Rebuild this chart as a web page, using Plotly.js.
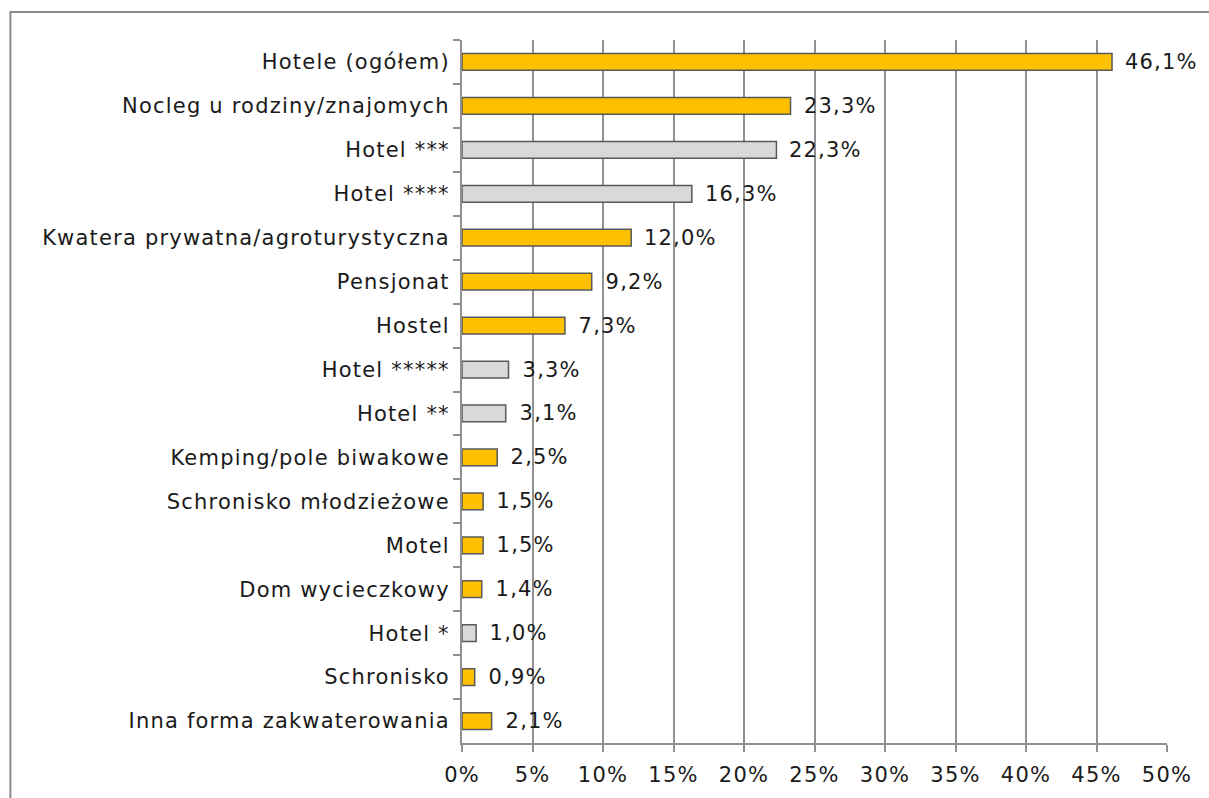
<!DOCTYPE html>
<html>
<head>
<meta charset="utf-8">
<script src="https://cdn.plot.ly/plotly-3.0.1.min.js"></script>
<style>html,body{margin:0;padding:0;background:#fff;}#chart{width:1209px;height:798px;}#chart text{letter-spacing:1.2px;}</style>
</head>
<body>
<div id="chart"></div>
<script>
const categories = ["Hotele (ogółem)","Nocleg u rodziny/znajomych","Hotel ***","Hotel ****","Kwatera prywatna/agroturystyczna","Pensjonat","Hostel","Hotel *****","Hotel **","Kemping/pole biwakowe","Schronisko młodzieżowe","Motel","Dom wycieczkowy","Hotel *","Schronisko","Inna forma zakwaterowania"];
const values = [46.1,23.3,22.3,16.3,12.0,9.2,7.3,3.3,3.1,2.5,1.5,1.5,1.4,1.0,0.9,2.1];
const isHotelClass = [false,false,true,true,false,false,false,true,true,false,false,false,false,true,false,false];
const xTickVals = [0,5,10,15,20,25,30,35,40,45,50];
const xTickText = ["0%","5%","10%","15%","20%","25%","30%","35%","40%","45%","50%"];

const colors = isHotelClass.map(h => h ? "#D9D9D9" : "#FFC000");

const trace = {
  type: "bar",
  orientation: "h",
  y: categories,
  x: values,
  marker: {color: colors, line: {color: "#595959", width: 1.5}},
  width: 0.38,
  hoverinfo: "skip"
};

const labelAnnotations = values.map((v, i) => ({
  x: v, y: categories[i], xref: "x", yref: "y",
  text: v.toFixed(1).replace(".", ",") + "%",
  showarrow: false, xanchor: "left", yanchor: "middle", xshift: 14,
  font: {size: 21, color: "#1a1a1a"}
}));

const layout = {
  width: 1209, height: 798,
  margin: {l: 462, r: 42, t: 40, b: 55},
  paper_bgcolor: "#fff", plot_bgcolor: "#fff",
  font: {family: "DejaVu Sans, sans-serif", size: 21, color: "#1a1a1a"},
  showlegend: false,
  xaxis: {
    range: [0, 50], tickvals: xTickVals, ticktext: xTickText,
    showgrid: true, gridcolor: "#909090", gridwidth: 2,
    showline: true, linecolor: "#909090", linewidth: 2,
    ticks: "outside", ticklen: 7, tickcolor: "#909090", tickwidth: 2,
    zeroline: false, fixedrange: true, ticklabelstandoff: 5
  },
  yaxis: {
    autorange: "reversed", type: "category",
    showline: true, linecolor: "#909090", linewidth: 2,
    ticks: "outside", tickson: "boundaries", ticklen: 7, tickcolor: "#909090", tickwidth: 2,
    showgrid: false, zeroline: false, ticklabelstandoff: 6
  },
  annotations: labelAnnotations,
  shapes: [{
    type: "rect", xref: "paper", yref: "paper",
    x0: -0.6406, x1: 1.2, y0: -0.2, y1: 1.0398,
    line: {color: "#8c8c8c", width: 2}, fillcolor: "rgba(0,0,0,0)", layer: "below"
  }]
};

Plotly.newPlot("chart", [trace], layout, {displayModeBar: false, staticPlot: true});
</script>
</body>
</html>
